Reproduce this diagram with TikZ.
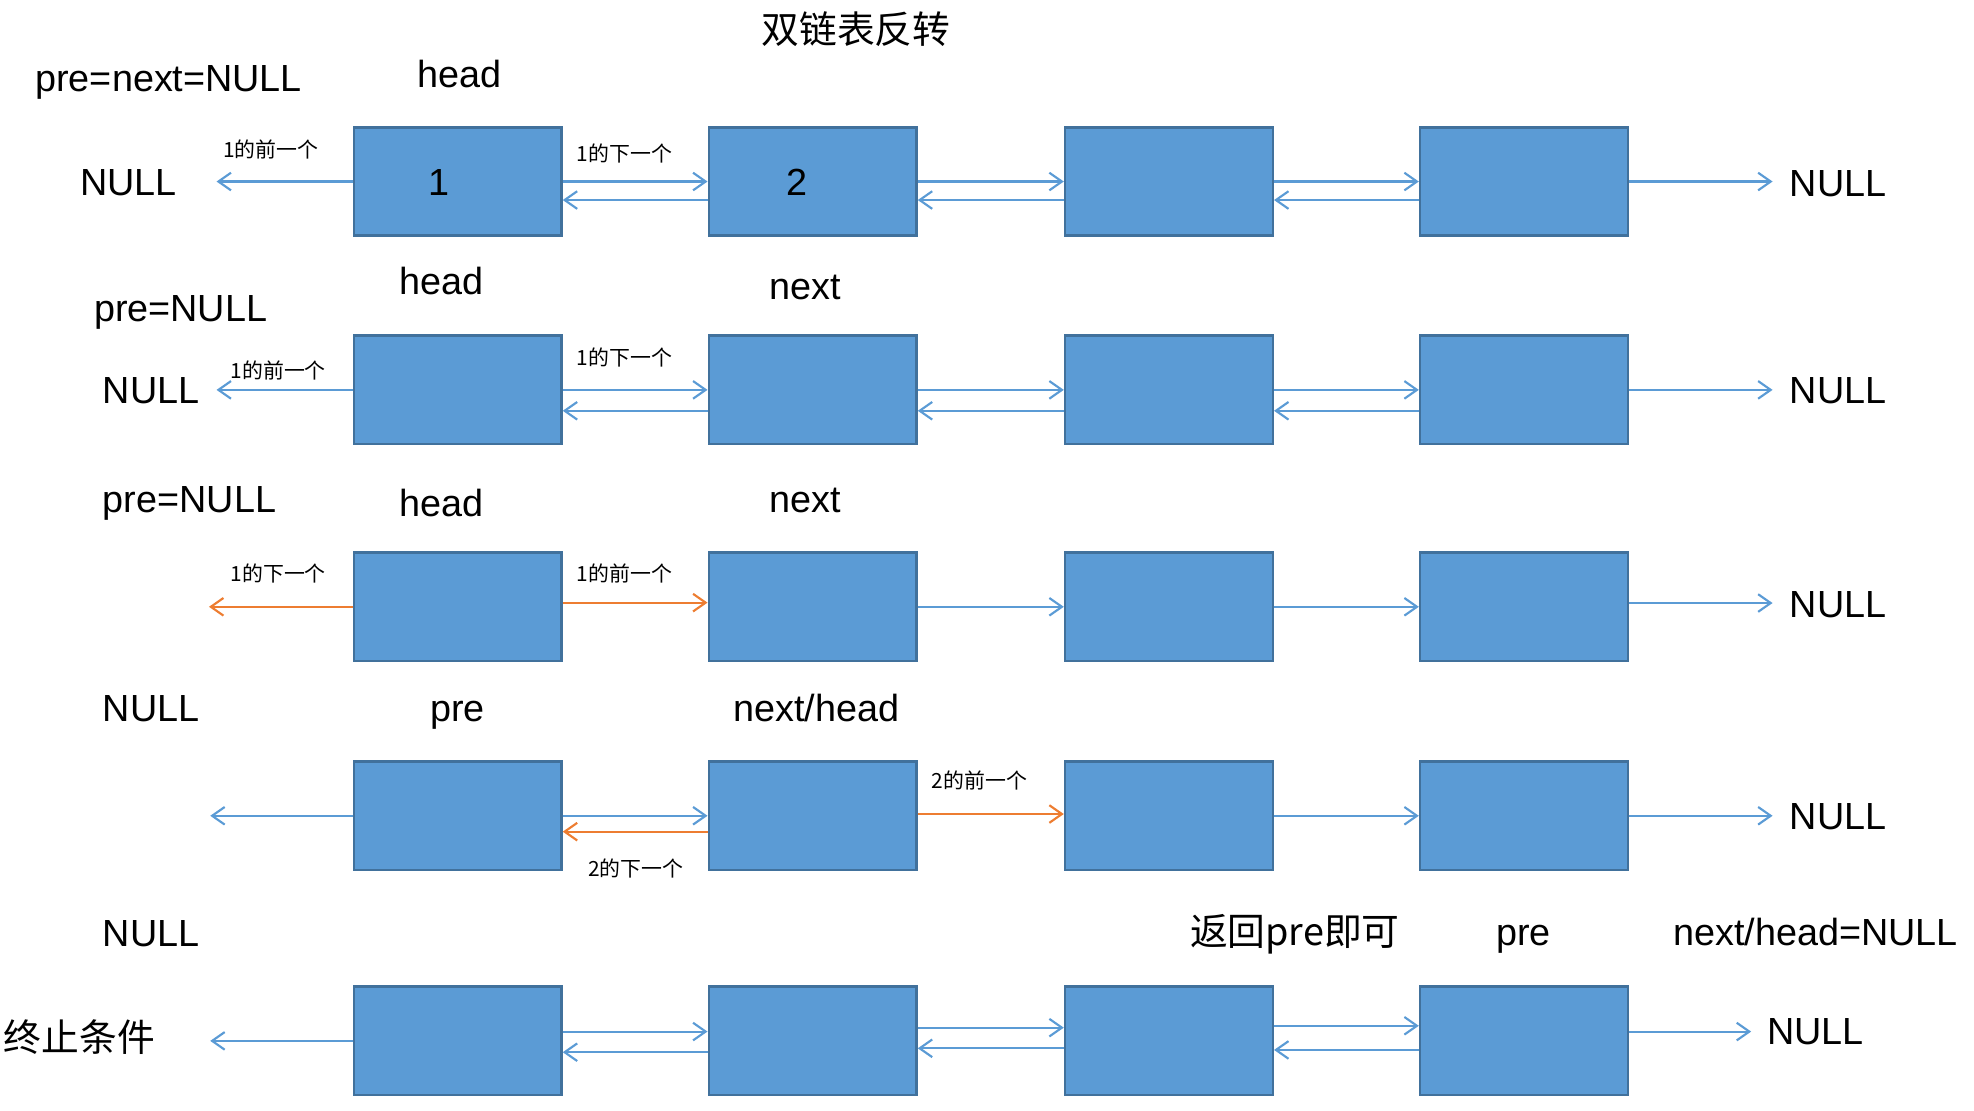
\documentclass[tikz,border=0pt]{standalone}
\usepackage{fontspec}
\setmainfont{Liberation Sans}
\newfontfamily\cjk{Noto Sans CJK SC}
\usetikzlibrary{arrows.meta}
\definecolor{boxfill}{HTML}{5B9BD5}
\definecolor{boxline}{HTML}{41719C}
\definecolor{lnk}{HTML}{5B9BD5}
\definecolor{org}{HTML}{ED7D31}
\begin{document}
\begin{tikzpicture}[x=0.5pt,y=-0.5pt,
  cell/.style={draw=boxline,fill=boxfill,line width=1pt,minimum width=82.5pt,minimum height=43pt,inner sep=0pt,font=\fontsize{15}{18}\selectfont},
  lbl/.style={font=\fontsize{15}{18}\selectfont,inner sep=0pt,anchor=base},
  cjklbl/.style={font=\cjk\fontsize{15}{18}\selectfont,inner sep=0pt},
  small/.style={font=\cjk\fontsize{8.3}{10}\selectfont,inner sep=0pt},
  arr/.style={draw=lnk,line width=0.85pt,-{Straight Barb[length=5pt,width=7pt]}},
  oarr/.style={arr,draw=org},
]
\useasboundingbox (0,0) rectangle (1568,882);

% title
\node[cjklbl] (title) at (680,23) {双链表反转};

% ---------------- row 1 ----------------
\node[cell] (b11) at (363.5,144.2) {};
\node[cell] (b12) at (645.5,144.2) {};
\node[cell] (b13) at (928.5,144.2) {};
\node[cell] (b14) at (1210.5,144.2) {};
\node[lbl] (one) at (349,155) {1};
\node[lbl] (two) at (633,155) {2};
\node[lbl] (t11) at (134,72.8) {pre=next=NULL};
\node[lbl] (t12) at (365,69.4) {head};
\node[lbl] (n1l) at (102,155) {NULL};
\node[lbl] (n1r) at (1460,156) {NULL};
\node[small] (s11) at (215,119) {1的前一个};
\node[small] (s12) at (496,122) {1的下一个};
\coordinate (e1l) at (172,144.2);
\coordinate (e1r) at (1408,144.2);
\draw[arr] (b11.west) -- (e1l);
\draw[arr] (b11.east) -- (b12.west);
\draw[arr] ([yshift=-7.35pt]b12.west) -- ([yshift=-7.35pt]b11.east);
\draw[arr] (b12.east) -- (b13.west);
\draw[arr] ([yshift=-7.35pt]b13.west) -- ([yshift=-7.35pt]b12.east);
\draw[arr] (b13.east) -- (b14.west);
\draw[arr] ([yshift=-7.35pt]b14.west) -- ([yshift=-7.35pt]b13.east);
\draw[arr] (b14.east) -- (e1r);

% ---------------- row 2 ----------------
\node[cell] (b21) at (363.5,309.7) {};
\node[cell] (b22) at (645.5,309.7) {};
\node[cell] (b23) at (928.5,309.7) {};
\node[cell] (b24) at (1210.5,309.7) {};
\node[lbl] (t21) at (351,234) {head};
\node[lbl] (t22) at (639.5,237.8) {next};
\node[lbl] (t23) at (143.5,255.5) {pre=NULL};
\node[lbl] (n2l) at (120,320.4) {NULL};
\node[lbl] (n2r) at (1460,320.4) {NULL};
\node[small] (s21) at (221,294.6) {1的前一个};
\node[small] (s22) at (496,284) {1的下一个};
\coordinate (e2l) at (172,309.7);
\coordinate (e2r) at (1408,309.7);
\draw[arr] (b21.west) -- (e2l);
\draw[arr] (b21.east) -- (b22.west);
\draw[arr] ([yshift=-8.3pt]b22.west) -- ([yshift=-8.3pt]b21.east);
\draw[arr] (b22.east) -- (b23.west);
\draw[arr] ([yshift=-8.3pt]b23.west) -- ([yshift=-8.3pt]b22.east);
\draw[arr] (b23.east) -- (b24.west);
\draw[arr] ([yshift=-8.3pt]b24.west) -- ([yshift=-8.3pt]b23.east);
\draw[arr] (b24.east) -- (e2r);

% ---------------- row 3 ----------------
\node[cell] (b31) at (363.5,482) {};
\node[cell] (b32) at (645.5,482) {};
\node[cell] (b33) at (928.5,482) {};
\node[cell] (b34) at (1210.5,482) {};
\node[lbl] (t31) at (150.5,406.9) {pre=NULL};
\node[lbl] (t32) at (351,409.9) {head};
\node[lbl] (t33) at (639.5,406.9) {next};
\node[lbl] (n3r) at (1460,490.7) {NULL};
\node[small] (s31) at (221,455.7) {1的下一个};
\node[small] (s32) at (496,455.7) {1的前一个};
\coordinate (e3l) at (166,482);
\coordinate (e3r) at (1408,479);
\draw[oarr] (b31.west) -- (e3l);
\draw[oarr] ([yshift=1.65pt]b31.east) -- ([yshift=1.65pt]b32.west);
\draw[arr] (b32.east) -- (b33.west);
\draw[arr] (b33.east) -- (b34.west);
\draw[arr] ([yshift=1.5pt]b34.east) -- (e3r);

% ---------------- row 4 ----------------
\node[cell] (b41) at (363.5,648) {};
\node[cell] (b42) at (645.5,648) {};
\node[cell] (b43) at (928.5,648) {};
\node[cell] (b44) at (1210.5,648) {};
\node[lbl] (n4l) at (120,573.2) {NULL};
\node[lbl] (t41) at (363.5,573.2) {pre};
\node[lbl] (t42) at (648.5,573) {next/head};
\node[lbl] (n4r) at (1460,658.5) {NULL};
\node[small] (s41) at (505,689.6) {2的下一个};
\node[small] (s42) at (778,619.6) {2的前一个};
\coordinate (e4l) at (167,648);
\coordinate (e4r) at (1408,648);
\draw[arr] (b41.west) -- (e4l);
\draw[arr] (b41.east) -- (b42.west);
\draw[oarr] ([yshift=-6.3pt]b42.west) -- ([yshift=-6.3pt]b41.east);
\draw[oarr] ([yshift=0.7pt]b42.east) -- ([yshift=0.7pt]b43.west);
\draw[arr] (b43.east) -- (b44.west);
\draw[arr] (b44.east) -- (e4r);

% ---------------- row 5 ----------------
\node[cell] (b51) at (363.5,826.8) {};
\node[cell] (b52) at (645.5,826.8) {};
\node[cell] (b53) at (928.5,826.8) {};
\node[cell] (b54) at (1210.5,826.8) {};
\node[lbl] (n5l) at (120,752) {NULL};
\node[cjklbl] (t51) at (1028.5,742) {返回pre即可};
\node[lbl] (t52) at (1210,751) {pre};
\node[lbl] (t53) at (1442,751) {next/head=NULL};
\node[cjklbl] (t54) at (63,824) {终止条件};
\node[lbl] (n5r) at (1442,830) {NULL};
\coordinate (e5l) at (167,826.8);
\coordinate (e5r) at (1391,819.4);
\draw[arr] (b51.west) -- (e5l);
\draw[arr] ([yshift=3.7pt]b51.east) -- ([yshift=3.7pt]b52.west);
\draw[arr] ([yshift=-4.5pt]b52.west) -- ([yshift=-4.5pt]b51.east);
\draw[arr] ([yshift=5.25pt]b52.east) -- ([yshift=5.25pt]b53.west);
\draw[arr] ([yshift=-2.95pt]b53.west) -- ([yshift=-2.95pt]b52.east);
\draw[arr] ([yshift=6pt]b53.east) -- ([yshift=6pt]b54.west);
\draw[arr] ([yshift=-3.6pt]b54.west) -- ([yshift=-3.6pt]b53.east);
\draw[arr] ([yshift=3.7pt]b54.east) -- (e5r);
\end{tikzpicture}
\end{document}
